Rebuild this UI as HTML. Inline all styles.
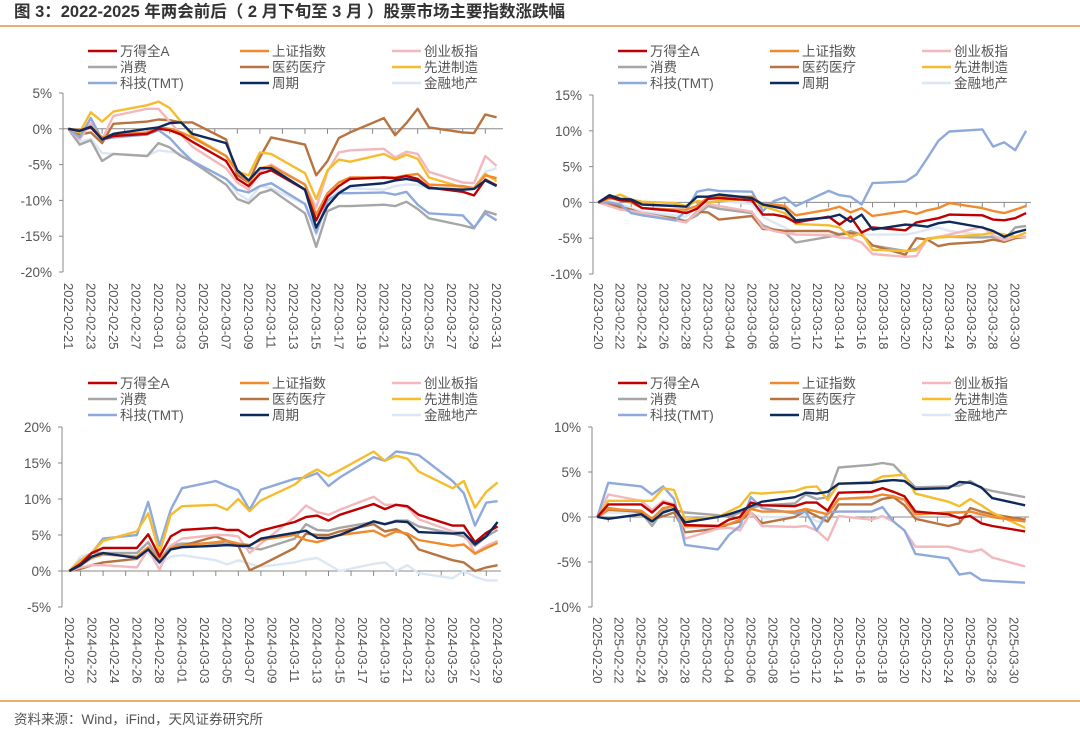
<!DOCTYPE html>
<html><head><meta charset="utf-8">
<style>
body{margin:0;background:#fff;width:1080px;height:732px;overflow:hidden;font-family:"Liberation Sans","Noto Sans CJK SC",sans-serif;}
svg text{font-family:"Liberation Sans","Noto Sans CJK SC",sans-serif;}
</style></head>
<body>
<svg id="chart" width="1080" height="732" viewBox="0 0 1080 732" xmlns="http://www.w3.org/2000/svg">
<text x="14" y="17" font-size="16.5" font-weight="bold" fill="#333">图 3：2022-2025 年两会前后（ 2 月下旬至 3 月 ）股票市场主要指数涨跌幅</text>
<line x1="0" y1="26" x2="1080" y2="26" stroke="#e8923a" stroke-width="1.5"/>
<line x1="0" y1="701" x2="1080" y2="701" stroke="#e8923a" stroke-width="1.5"/>
<text x="14" y="724" font-size="13.5" fill="#555">资料来源：Wind，iFind，天风证券研究所</text>
</svg>
<script>
const seriesNames=["万得全A","上证指数","创业板指","消费","医药医疗","先进制造","科技(TMT)","周期","金融地产"];
const seriesColors=["#c00000","#f08a2c","#f2b8bd","#a6a6a6","#b87440","#f5bd2e","#8ea9db","#0e2a5c","#dce7f4"];
const seriesKeys=["wind-a","sse","chinext","consumer","pharma","manufacturing","tmt","cyclical","finance"];

// 2022
const days2022=[0,1,2,3,4,7,8,9,10,11,14,15,16,17,18,21,22,23,24,25,28,29,30,31,32,35,36,37,38];
const labels2022=["2022-02-21","2022-02-23","2022-02-25","2022-02-27","2022-03-01","2022-03-03","2022-03-05","2022-03-07","2022-03-09","2022-03-11","2022-03-13","2022-03-15","2022-03-17","2022-03-19","2022-03-21","2022-03-23","2022-03-25","2022-03-27","2022-03-29","2022-03-31"];
const ticks2022=[5,0,-5,-10,-15,-20];
const v2022_windA=[0,-0.3,0.2,-1.5,-1.0,-0.7,0,-0.2,-0.8,-1.8,-4.5,-7.0,-8.0,-6.3,-5.8,-8.5,-12.8,-9.5,-8.0,-7.0,-6.8,-6.9,-6.6,-7.0,-8.2,-8.8,-9.3,-7.1,-7.9];
const v2022_sse=[0,-0.2,0.3,-1.2,-0.8,-0.5,0.2,0,-0.5,-1.2,-3.8,-6.0,-7.5,-5.5,-5.2,-7.8,-12.0,-9.0,-7.5,-6.8,-6.8,-6.8,-6.5,-6.3,-7.8,-8.0,-8.3,-6.5,-6.9];
const v2022_chinext=[0,-1.5,0.8,-1.5,1.8,2.8,2.8,1.0,-0.8,-2.5,-5.5,-7.5,-8.5,-6.0,-5.0,-7.8,-11.0,-6.0,-3.3,-3.0,-2.8,-4.0,-3.2,-3.5,-6.0,-7.5,-7.6,-3.8,-5.2];
const v2022_consumer=[0,-2.2,-1.6,-4.5,-3.5,-3.8,-2.0,-2.6,-3.8,-4.6,-7.8,-9.8,-10.4,-9.0,-8.5,-11.8,-16.5,-11.5,-10.8,-10.8,-10.6,-10.8,-10.2,-11.2,-12.5,-13.5,-13.9,-11.5,-12.0];
const v2022_pharma=[0,-0.8,-0.5,-2.0,0.7,1.0,1.3,1.2,0.9,0.9,-1.5,-6.5,-7.5,-4.0,-1.2,-2.2,-6.5,-4.5,-1.3,-0.5,1.5,-0.9,0.8,2.8,0.2,-0.5,-0.6,2.0,1.6];
const v2022_mfg=[0,-0.5,2.3,1.0,2.4,3.3,3.8,2.9,1.0,-1.0,-3.8,-6.0,-6.5,-3.3,-3.5,-6.2,-9.8,-5.8,-4.3,-4.6,-3.5,-4.3,-3.6,-4.2,-6.8,-8.2,-8.3,-6.3,-7.3];
const v2022_tmt=[0,-1.2,1.5,-1.5,-1.2,-0.8,-0.2,-1.3,-3.0,-4.5,-7.0,-8.5,-8.9,-8.0,-7.6,-10.5,-14.5,-10.0,-9.0,-9.0,-8.9,-9.2,-8.8,-10.6,-11.8,-12.1,-13.8,-11.8,-12.8];
const v2022_cyc=[0,-0.3,0.3,-1.5,-0.7,0,0.2,0.8,0.9,-0.7,-2.0,-5.8,-7.2,-5.5,-5.5,-8.5,-13.8,-10.8,-9.0,-8.0,-7.6,-7.2,-7.0,-7.3,-8.3,-8.5,-8.4,-7.2,-8.0];
const v2022_fin=[0,-1.8,-1.4,-3.4,-3.5,-3.8,-3.0,-3.2,-3.5,-4.5,-7.0,-9.0,-10.0,-8.0,-8.3,-10.5,-14.8,-10.5,-8.5,-8.3,-8.5,-8.0,-7.8,-7.8,-8.3,-8.2,-8.3,-6.0,-5.5];

// 2023
const days2023=[0,1,2,3,4,7,8,9,10,11,14,15,16,17,18,21,22,23,24,25,28,29,30,31,32,35,36,37,38,39];
const labels2023=["2023-02-20","2023-02-22","2023-02-24","2023-02-26","2023-02-28","2023-03-02","2023-03-04","2023-03-06","2023-03-08","2023-03-10","2023-03-12","2023-03-14","2023-03-16","2023-03-18","2023-03-20","2023-03-22","2023-03-24","2023-03-26","2023-03-28","2023-03-30"];
const ticks2023=[15,10,5,0,-5,-10];
const v2023_windA=[0,0.8,0.3,0.2,-0.8,-1.2,-1.5,-0.9,0.5,0.6,0.3,-1.7,-1.7,-2.0,-2.8,-2.0,-3.1,-2.0,-4.2,-3.5,-3.9,-2.8,-2.5,-2.2,-1.7,-1.8,-2.4,-2.5,-2.2,-1.5];
const v2023_sse=[0,0.6,0.3,0,-0.8,-1.0,-1.0,-0.5,0.7,0.8,0.8,-0.3,-0.3,-0.5,-1.8,-1.0,-0.6,-1.4,-0.8,-1.9,-1.2,-1.6,-1.1,-0.8,-0.1,-0.8,-1.2,-1.5,-1.0,-0.5];
const v2023_chinext=[0,-0.5,-1.0,-1.2,-1.5,-2.5,-2.8,-1.4,-0.2,-0.5,-1.3,-3.5,-4.0,-4.3,-4.5,-4.6,-4.9,-5.0,-5.6,-7.2,-7.6,-7.5,-5.1,-4.8,-4.5,-3.4,-4.6,-5.3,-4.8,-4.8];
const v2023_consumer=[0,-0.3,-0.8,-1.0,-1.5,-2.2,-2.6,-1.8,-0.5,-0.9,-1.5,-3.2,-3.8,-4.2,-5.6,-4.8,-4.5,-4.0,-4.5,-6.0,-6.8,-6.5,-5.2,-4.8,-4.8,-4.9,-4.8,-5.2,-3.5,-3.3];
const v2023_pharma=[0,-0.3,-0.6,-1.0,-1.8,-2.2,-2.8,-1.3,-1.4,-2.4,-1.9,-3.7,-3.8,-4.0,-4.0,-4.0,-4.5,-4.3,-4.5,-6.0,-7.3,-5.0,-5.2,-6.1,-5.8,-5.5,-5.2,-5.5,-5.0,-4.8];
const v2023_mfg=[0,0.5,1.1,0.4,0.1,-0.1,-0.5,0.2,0,0.2,0.5,-0.5,-1.0,-1.5,-3.0,-3.2,-3.5,-4.8,-4.3,-6.6,-6.8,-6.7,-5.0,-4.9,-4.8,-4.5,-4.2,-4.5,-4.8,-4.2];
const v2023_tmt=[0,0,-0.3,-1.5,-1.8,-2.5,-1.2,1.5,1.8,1.6,1.5,-1.2,0.2,0.7,-0.5,1.6,1.0,0.8,-0.3,2.7,2.9,3.9,6.2,8.6,9.9,10.2,7.8,8.4,7.3,10.0];
const v2023_cyc=[0,1.0,0.5,0.4,-0.3,-0.5,-0.6,0.8,0.8,1.1,0.6,-0.3,-0.6,-0.9,-2.5,-2.1,-1.7,-2.7,-1.7,-3.8,-3.1,-3.2,-3.4,-2.9,-2.7,-3.5,-4.0,-4.8,-4.2,-3.8];
const v2023_fin=[0,0.2,-0.2,-0.8,-1.3,-1.8,-2.0,-0.5,0.4,0.2,-0.2,-2.0,-2.8,-3.5,-4.5,-4.5,-4.3,-4.2,-4.5,-4.5,-4.5,-4.2,-3.8,-3.5,-4.0,-4.5,-4.8,-4.9,-4.8,-4.9];

// 2024
const days2024=[0,1,2,3,6,7,8,9,10,13,14,15,16,17,20,21,22,23,24,27,28,29,30,31,34,35,36,37,38];
const labels2024=["2024-02-20","2024-02-22","2024-02-24","2024-02-26","2024-02-28","2024-03-01","2024-03-03","2024-03-05","2024-03-07","2024-03-09","2024-03-11","2024-03-13","2024-03-15","2024-03-17","2024-03-19","2024-03-21","2024-03-23","2024-03-25","2024-03-27","2024-03-29"];
const ticks2024=[20,15,10,5,0,-5];
const v2024_windA=[0,1.0,2.5,3.2,3.2,5.1,2.0,4.8,5.7,6.0,5.7,5.7,4.7,5.6,6.8,7.5,7.7,7.0,7.8,9.3,8.6,9.2,9.0,7.8,6.3,6.3,4.0,5.3,6.2];
const v2024_sse=[0,0.8,1.8,2.3,2.0,3.3,1.3,3.2,3.5,4.0,4.2,3.8,3.6,4.3,5.0,4.3,4.0,4.5,5.0,5.6,4.8,5.5,5.2,4.3,3.5,3.7,2.4,3.2,3.9];
const v2024_chinext=[0,0.5,0.8,0.8,0.5,3.0,0.2,3.5,4.5,5.0,5.0,4.8,2.5,3.8,7.5,9.1,8.2,7.8,8.5,10.3,9.2,9.2,8.8,7.2,5.5,5.3,2.5,3.5,4.2];
const v2024_consumer=[0,1.5,2.5,2.5,2.5,4.0,1.5,3.5,3.8,3.8,3.8,3.5,3.2,3.0,4.5,6.5,5.7,5.6,6.0,6.8,6.5,7.0,7.0,6.2,5.2,4.8,3.5,4.8,5.7];
const v2024_pharma=[0,0.3,0.8,1.2,1.7,3.0,1.2,3.0,3.5,4.8,4.2,3.5,0.1,0.8,3.2,5.2,5.0,5.0,5.5,6.5,5.5,5.8,5.0,3.0,1.5,1.2,0,0.5,0.8];
const v2024_mfg=[0,1.5,2.5,4.2,5.5,8.0,2.5,7.8,9.0,9.2,8.5,10.0,8.3,9.8,12.0,13.3,14.1,13.2,14.0,16.6,15.3,16.0,15.6,13.8,11.5,12.5,8.8,11.0,12.3];
const v2024_tmt=[0,1.5,2.5,4.5,5.0,9.6,3.5,8.5,11.5,12.5,11.8,11.2,8.5,11.3,12.8,13.0,13.6,11.8,13.0,15.8,15.3,16.6,16.4,16.1,12.5,10.8,6.3,9.5,9.7];
const v2024_cyc=[0,0.8,2.0,2.5,1.8,3.0,1.2,3.0,3.3,3.5,3.6,3.5,3.5,4.5,5.3,5.6,4.6,4.6,5.0,6.9,6.5,6.9,6.8,5.4,5.2,5.3,3.7,4.8,6.8];
const v2024_fin=[0,2.0,2.5,2.5,2.0,2.5,1.0,2.0,2.2,1.5,0.9,1.5,1.0,0.6,1.2,1.6,1.8,0.9,0,1.0,1.2,0,0.8,-0.3,-1.0,0,-0.8,-1.3,-1.3];

// 2025
const days2025=[0,1,4,5,6,7,8,11,12,13,14,15,18,19,20,21,22,25,26,27,28,29,32,33,34,35,36,39];
const labels2025=["2025-02-20","2025-02-22","2025-02-24","2025-02-26","2025-02-28","2025-03-02","2025-03-04","2025-03-06","2025-03-08","2025-03-10","2025-03-12","2025-03-14","2025-03-16","2025-03-18","2025-03-20","2025-03-22","2025-03-24","2025-03-26","2025-03-28","2025-03-30"];
const ticks2025=[10,5,0,-5,-10];
const v2025_windA=[0,1.4,1.4,0.5,1.6,1.3,-0.9,-1.0,-0.3,0,1.6,1.3,1.2,1.6,1.6,0.7,2.7,2.8,3.2,2.8,2.3,0.6,0.3,-0.1,0.1,-0.7,-1.0,-1.6];
const v2025_sse=[0,0.9,0.7,-0.2,1.0,1.2,-1.0,-1.0,-0.8,-0.3,0.9,0.6,0.6,0.9,0.6,0.3,2.0,2.2,2.5,2.3,1.9,0.3,0.5,0.5,0.6,0.3,0,-0.5];
const v2025_chinext=[0,2.5,1.8,0.8,1.8,1.4,-2.4,-1.3,-1.2,-1.5,0.5,-1.0,-1.1,-1.0,-1.5,-2.6,0.1,-0.3,0.1,-0.5,-1.5,-3.3,-3.3,-3.6,-3.9,-3.6,-4.5,-5.5];
const v2025_consumer=[0,1.0,0.5,-1.0,0.8,0.8,0.5,0.2,0,0.5,1.0,1.3,1.5,2.5,2.0,2.2,5.5,5.8,6.0,5.8,4.5,3.3,3.4,3.5,4.0,3.2,2.9,2.2];
const v2025_pharma=[0,0.8,0.6,-0.3,0.1,0.5,-1.7,-1.3,-0.8,-0.5,0.5,-0.7,0,0.7,0.1,-0.5,1.4,1.4,2.0,2.2,1.3,-0.2,-1.0,-0.7,1.0,0.6,0.3,-0.3];
const v2025_mfg=[0,1.8,1.8,1.8,3.2,3.0,-0.3,0,0.6,1.2,2.7,2.6,2.9,3.3,3.4,1.9,3.7,3.9,4.5,4.6,4.7,2.6,1.7,1.2,2.0,1.3,0.5,-1.2];
const v2025_tmt=[0,3.8,3.4,2.5,3.4,2.0,-3.1,-3.6,-2.0,-1.0,2.2,1.0,0.4,0.6,-1.5,0.5,0.6,0.6,1.1,-0.5,-1.5,-4.1,-4.6,-6.4,-6.2,-7.0,-7.1,-7.3];
const v2025_cyc=[0,-0.2,0.3,-0.5,0.5,0.9,-0.6,0,0.3,0.7,1.2,1.7,2.2,2.7,2.6,2.8,3.7,3.8,4.0,4.1,4.0,3.1,3.2,3.9,3.8,3.3,2.1,1.3];
const v2025_fin=[0,0.5,0.5,-1.0,0.5,0.8,-1.2,-1.2,-1.2,-1.2,0.3,0,0,0.3,-0.5,-0.5,2.0,2.0,2.0,2.4,1.4,0.3,0.5,0.6,0.2,0.2,0,-0.5];

const NS="http://www.w3.org/2000/svg";
const svg=document.getElementById('chart');
function mk(tag,attrs,parent){const e=document.createElementNS(NS,tag);for(const k in attrs)e.setAttribute(k,attrs[k]);(parent||svg).appendChild(e);return e;}

const panels=[
 {id:"2022",days:days2022,labels:labels2022,ticks:ticks2022,series:[v2022_windA,v2022_sse,v2022_chinext,v2022_consumer,v2022_pharma,v2022_mfg,v2022_tmt,v2022_cyc,v2022_fin],
  axisX:63,x0:68.3,dx:11.27,xEnd:503,yTop:93,yBot:272,legX:88,legY:51,labelY:283},
 {id:"2023",days:days2023,labels:labels2023,ticks:ticks2023,series:[v2023_windA,v2023_sse,v2023_chinext,v2023_consumer,v2023_pharma,v2023_mfg,v2023_tmt,v2023_cyc,v2023_fin],
  axisX:593,x0:598.3,dx:10.97,xEnd:1031,yTop:95,yBot:274,legX:618,legY:51,labelY:283},
 {id:"2024",days:days2024,labels:labels2024,ticks:ticks2024,series:[v2024_windA,v2024_sse,v2024_chinext,v2024_consumer,v2024_pharma,v2024_mfg,v2024_tmt,v2024_cyc,v2024_fin],
  axisX:62,x0:69.3,dx:11.27,xEnd:501,yTop:427,yBot:607,legX:88,legY:383,labelY:617},
 {id:"2025",days:days2025,labels:labels2025,ticks:ticks2025,series:[v2025_windA,v2025_sse,v2025_chinext,v2025_consumer,v2025_pharma,v2025_mfg,v2025_tmt,v2025_cyc,v2025_fin],
  axisX:592,x0:597.3,dx:10.97,xEnd:1029,yTop:427,yBot:607,legX:618,legY:383,labelY:617}
];

panels.forEach(p=>{
 const g=mk('g',{});
 
 
 const tMax=p.ticks[0],tMin=p.ticks[p.ticks.length-1];
 const yS=v=>p.yTop+(tMax-v)/(tMax-tMin)*(p.yBot-p.yTop);
 const xS=d=>p.x0+d*p.dx;
 const lg=mk('g',{},g);
 
 
 seriesNames.forEach((n,i)=>{
  const col=i%3,row=Math.floor(i/3);
  const lx=p.legX+col*152,ly=p.legY+row*16;
  const e=mk('g',{},lg);
  
  
  mk('line',{x1:lx,y1:ly,x2:lx+29,y2:ly,stroke:seriesColors[i],'stroke-width':2.5},e);
  const t=mk('text',{x:lx+32,y:ly+5,'font-size':13.5,fill:'#555'},e);
  t.textContent=n;
 });
 const ya=mk('line',{x1:p.axisX,y1:p.yTop,x2:p.axisX,y2:p.yBot,stroke:'#888','stroke-width':1},g);
 
 
 p.ticks.forEach(v=>{
  const y=yS(v);
  mk('line',{x1:p.axisX-4,y1:y,x2:p.axisX,y2:y,stroke:'#888','stroke-width':1},g);
  const t=mk('text',{x:p.axisX-11,y:y+5,'font-size':13.5,fill:'#555','text-anchor':'end'},g);
  
  
  t.textContent=v+'%';
 });
 const y0=yS(0);
 const xa=mk('line',{x1:p.axisX,y1:y0,x2:p.xEnd,y2:y0,stroke:'#888','stroke-width':1},g);
 
 
 for(let d=1;xS(d)<=p.xEnd+1;d+=2){mk('line',{x1:xS(d),y1:y0,x2:xS(d),y2:y0+5,stroke:'#888','stroke-width':1},g);}
 p.labels.forEach((lab,i)=>{
  const x=xS(i*2);
  const t=mk('text',{x:0,y:0,'font-size':13,fill:'#555',transform:`translate(${x-4.5},${p.labelY}) rotate(90)`},g);
  
  
  t.textContent=lab;
 });
 const order=[8,3,4,2,6,5,1,0,7];
 order.forEach(i=>{
  const vals=p.series[i];
  const pts=vals.map((v,k)=>xS(p.days[k]).toFixed(1)+','+yS(v).toFixed(1)).join(' ');
  const pl=mk('polyline',{points:pts,fill:'none',stroke:seriesColors[i],'stroke-width':2.4,'stroke-linejoin':'round'},g);
  
  
 });
});
</script>
</body></html>
